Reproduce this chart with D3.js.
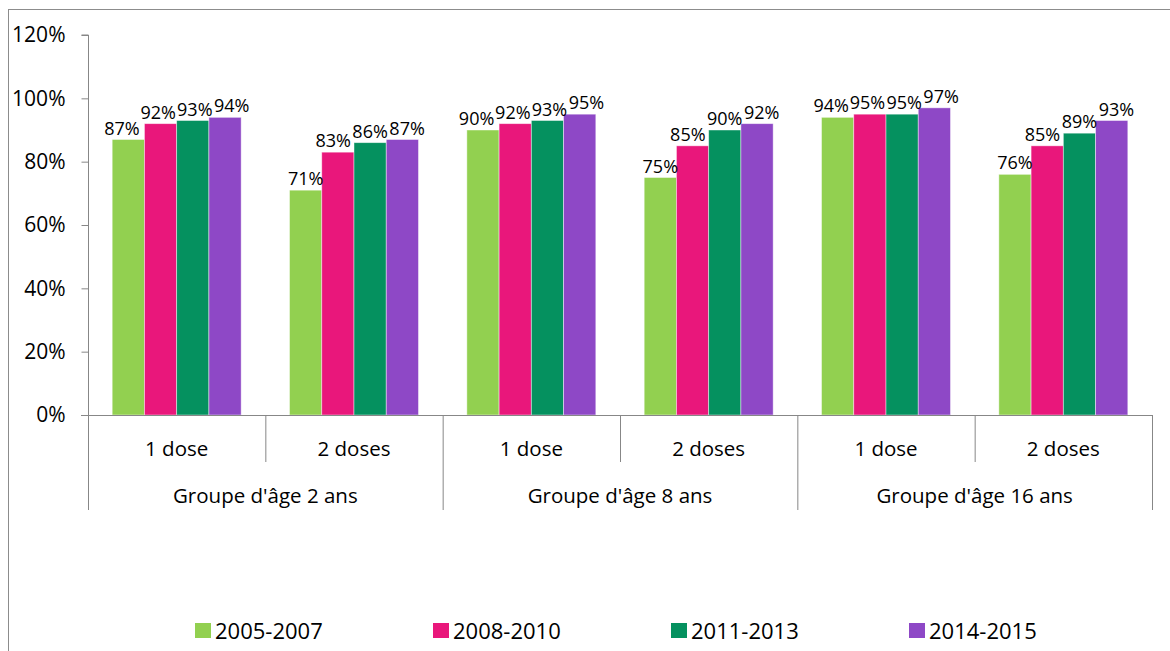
<!DOCTYPE html>
<html>
<head>
<meta charset="utf-8">
<script src="https://cdn.jsdelivr.net/npm/d3@7"></script>
<style>
  html, body { margin: 0; padding: 0; background: #fff; }
  svg { display: block; }
  text { font-family: "Open Sans", "Noto Sans", sans-serif; fill: #000; }
</style>
</head>
<body>
<svg id="chart" width="1170" height="651"></svg>
<script>
// ---- Data ----
const groups = ["Groupe d'âge 2 ans", "Groupe d'âge 8 ans", "Groupe d'âge 16 ans"];
const doses = ["1 dose", "2 doses"];
const series = ["2005-2007", "2008-2010", "2011-2013", "2014-2015"];
const values2005 = [0.87, 0.71, 0.90, 0.75, 0.94, 0.76];
const values2008 = [0.92, 0.83, 0.92, 0.85, 0.95, 0.85];
const values2011 = [0.93, 0.86, 0.93, 0.90, 0.95, 0.89];
const values2014 = [0.94, 0.87, 0.95, 0.92, 0.97, 0.93];
const yTicks = [0, 0.2, 0.4, 0.6, 0.8, 1.0, 1.2];
const colors = ["#92d050", "#e9177b", "#05915f", "#8e48c6"];

(function () {
const seriesValues = [values2005, values2008, values2011, values2014];
const categories = [];
groups.forEach((g, gi) => doses.forEach((d, di) => categories.push({ key: gi + "-" + di, group: g, dose: d })));
const rows = categories.map((c, i) => ({
  key: c.key,
  vals: series.map((s, si) => ({ series: s, si, v: seriesValues[si][i] }))
}));

// ---- Layout ----
const svg = d3.select("#chart");
const axisColor = "#878787";
const pLeft = 88, pRight = 1152, pTop = 35, pBottom = 415;

svg.append("rect")
  .attr("x", 8.5).attr("y", 9.5)
  .attr("width", 1200).attr("height", 700)
  .attr("fill", "none").attr("stroke", "#8c8c8c").attr("stroke-width", 1);

const x0 = d3.scaleBand().domain(categories.map(c => c.key)).range([pLeft, pRight]).padding(0);
const x1 = d3.scaleBand().domain(series).range([0, x0.bandwidth()]).paddingInner(0).paddingOuter(0.75);
const y = d3.scaleLinear().domain([0, 1.2]).range([pBottom, pTop]);

// Y axis
const yAxis = d3.axisLeft(y).tickValues(yTicks).tickFormat(d3.format(".0%")).tickSize(7).tickPadding(16);
const yg = svg.append("g").attr("transform", `translate(${pLeft + 0.5},0)`).call(yAxis);
yg.select(".domain").attr("stroke", axisColor).attr("d", `M-7,${pTop}H0V${pBottom}`);
yg.selectAll(".tick line").attr("stroke", axisColor);
yg.selectAll(".tick text").attr("font-size", 21).attr("font-family", "'Open Sans', sans-serif").attr("fill", "#000");

// Bars
const cat = svg.append("g").selectAll("g").data(rows).join("g")
  .attr("transform", d => `translate(${x0(d.key)},0)`);

cat.selectAll("rect").data(d => d.vals).join("rect")
  .attr("x", d => x1(d.series))
  .attr("y", d => y(d.v))
  .attr("width", x1.bandwidth())
  .attr("height", d => y(0) - y(d.v))
  .attr("fill", d => colors[d.si])
  .attr("stroke", "#ffffff").attr("stroke-opacity", 0.55).attr("stroke-width", 0.8);

cat.each(function () {
  const g = d3.select(this);
  const labels = g.selectAll("text").data(d => d.vals).join("text")
    .attr("x", d => x1(d.series) + x1.bandwidth() / 2)
    .attr("y", d => y(d.v) - 5)
    .attr("text-anchor", "middle")
    .attr("font-size", 18)
    .text(d => d3.format(".0%")(d.v));
  // simple horizontal dodge so neighbouring labels do not collide
  const items = labels.nodes().map(n => ({ n, x: +n.getAttribute("x"), y: +n.getAttribute("y"), w: n.getComputedTextLength() }));
  for (let pass = 0; pass < 4; pass++) {
    for (let i = 1; i < items.length; i++) {
      const a = items[i - 1], b = items[i];
      if (Math.abs(a.y - b.y) < 17) {
        const overlap = (a.x + a.w / 2 + 1.5) - (b.x - b.w / 2);
        if (overlap > 0) { a.x -= overlap / 2; b.x += overlap / 2; }
      }
    }
  }
  items.forEach(it => it.n.setAttribute("x", it.x));
});

// X axis (multi-level)
const xg = svg.append("g");
xg.append("line").attr("x1", pLeft - 7).attr("x2", pRight).attr("y1", pBottom + 0.5).attr("y2", pBottom + 0.5)
  .attr("stroke", axisColor);
categories.forEach((c, i) => {
  const xs = x0(c.key);
  const isGroupStart = i % doses.length === 0;
  xg.append("line").attr("x1", xs + 0.5).attr("x2", xs + 0.5)
    .attr("y1", pBottom).attr("y2", isGroupStart ? 510 : 462)
    .attr("stroke", axisColor);
  xg.append("text").attr("x", xs + x0.bandwidth() / 2).attr("y", 456)
    .attr("text-anchor", "middle").attr("font-size", 20.5).text(c.dose);
});
xg.append("line").attr("x1", pRight + 0.5).attr("x2", pRight + 0.5).attr("y1", pBottom).attr("y2", 510)
  .attr("stroke", axisColor);
groups.forEach((g, gi) => {
  const start = x0(categories[gi * doses.length].key);
  const end = x0(categories[gi * doses.length + doses.length - 1].key) + x0.bandwidth();
  xg.append("text").attr("x", (start + end) / 2).attr("y", 503)
    .attr("text-anchor", "middle").attr("font-size", 20.5).text(g);
});

// Legend
const lx = d3.scalePoint().domain(series).range([195, 909]);
const lg = svg.append("g").selectAll("g").data(series).join("g")
  .attr("transform", d => `translate(${lx(d)},623)`);
lg.append("rect").attr("width", 16).attr("height", 15).attr("fill", (d, i) => colors[i]);
lg.append("text").attr("x", 20).attr("y", 15.5).attr("font-size", 22).text(d => d);
})();
</script>
</body>
</html>
